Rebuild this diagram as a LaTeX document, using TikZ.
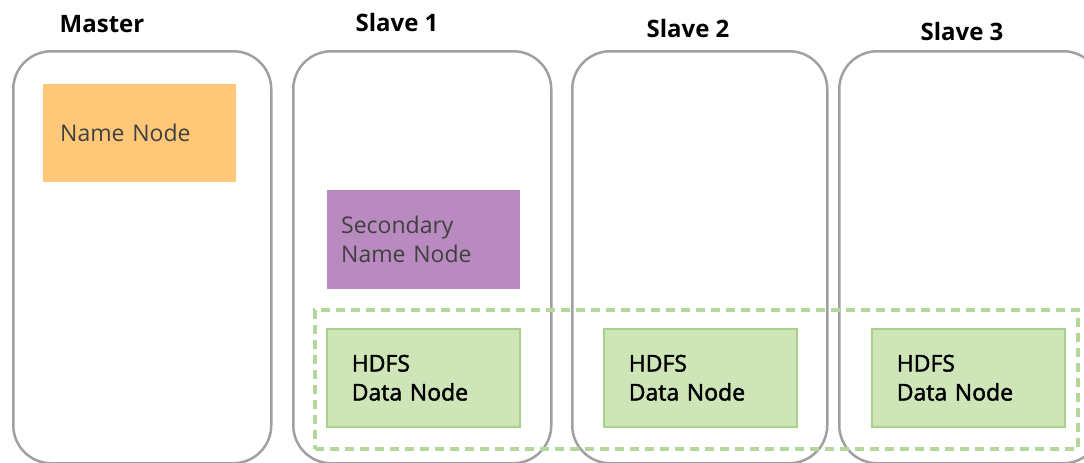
\documentclass[tikz,border=0pt]{standalone}
\usepackage{fontspec}
\setmainfont{Open Sans}
\newfontfamily\heavyfont[FakeBold=2]{Open Sans}
\usepackage{xcolor}
\definecolor{boxgray}{HTML}{A0A0A0}
\definecolor{nnorange}{HTML}{FFC878}
\definecolor{snnpurple}{HTML}{B98AC0}
\definecolor{dnfill}{HTML}{CDE5B7}
\definecolor{dnline}{HTML}{A9D18E}
\definecolor{dashgreen}{HTML}{B4D89A}
\definecolor{textgray}{HTML}{404040}
\tikzset{
    server-box/.style = {draw=boxgray, line width=2.5pt, rectangle, rounded corners=38pt, anchor=north west, minimum height=412pt},
    server-title/.style = {font=\fontsize{24}{28}\selectfont\bfseries, text=black},
    role-box/.style = {rectangle, anchor=north west, minimum width=193pt, minimum height=98pt, align=left, font=\fontsize{23}{29}\selectfont},
    data-box/.style = {role-box, fill=dnfill, draw=dnline, line width=1.5pt, text=black, inner xsep=25pt, text width=143pt, font=\fontsize{23}{29}\heavyfont},
}
\begin{document}
\begin{tikzpicture}[x=1pt, y=-1pt]
\clip (0,0) rectangle (1084,463);
\node [server-box, minimum width=258pt] (master) at (12,50) {};
\node [server-box, minimum width=258pt] (slave1) at (292,50) {};
\node [server-box, minimum width=255pt] (slave2) at (571,50) {};
\node [server-box, minimum width=262pt] (slave3) at (838,50) {};
\node [server-title] (master-title) at (102,24) {Master};
\node [server-title] (slave1-title) at (397,22) {Slave 1};
\node [server-title] (slave2-title) at (688,28) {Slave 2};
\node [server-title] (slave3-title) at (962,31) {Slave 3};
\node [draw=dashgreen, line width=3.5pt, dash pattern=on 9pt off 6pt, rectangle, anchor=north west, minimum width=763pt, minimum height=139pt] (hdfs-group) at (313,308) {};
\node [role-box, fill=nnorange, text=textgray, inner xsep=17pt, text width=159pt] (namenode) at (43,84) {Name Node};
\node [role-box, fill=snnpurple, text=textgray, inner xsep=14pt, text width=165pt, minimum height=99pt] (secondary) at (327,190) {Secondary\\Name Node};
\node [data-box, inner ysep=6pt] (datanode1) at (326,328) {HDFS\\Data Node};
\node [data-box, inner ysep=6pt] (datanode2) at (603,328) {HDFS\\Data Node};
\node [data-box, inner ysep=6pt] (datanode3) at (871,328) {HDFS\\Data Node};
\end{tikzpicture}
\end{document}
